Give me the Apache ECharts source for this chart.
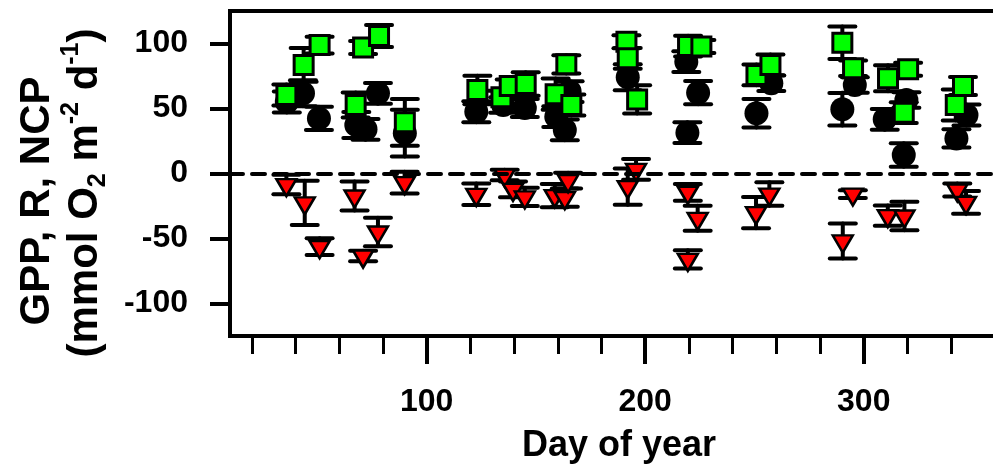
<!DOCTYPE html>
<html>
<head>
<meta charset="utf-8">
<script src="https://cdn.jsdelivr.net/npm/echarts@6/dist/echarts.min.js"></script>
<style>
  html, body { margin: 0; padding: 0; background: #fff; }
  #chart { width: 993px; height: 465px; }
</style>
</head>
<body>
<div id="chart"></div>
<script>
// GPP (green squares)
const gppDay = [35.8, 43.7, 51, 70.9, 78.2, 67.5, 90, 123.2, 134.2, 138, 145.3, 159, 163.9, 166.2,
  191.4, 192, 196.3, 219.6, 225.7, 250.9, 257.3, 290.2, 295.1, 311.1, 320.3, 318.3, 342.1, 345.4];
const gppVal = [60.4, 83.5, 98.8, 97, 105.8, 52.7, 39.4, 64.2, 58.6, 67.3, 68.8, 61, 84, 52.7,
  101.4, 88.6, 57, 98, 97.6, 75.8, 83.5, 100.6, 81, 73.2, 80.1, 46.8, 52.7, 67.3];
const gppErr = [8, 13, 6.4, 5, 8.5, 9.6, 18, 11, 5, 5, 9, 12, 7, 8,
  5, 8, 10.8, 8, 5, 8, 8, 12.5, 6, 10, 5, 8, 12, 7];

// NCP (black circles)
const ncpDay = [36, 43.4, 50.7, 67.8, 72, 77.7, 90, 122.7, 135, 144.9, 159.3, 163.2, 165.4,
  192, 218.8, 224.2, 219.3, 250.9, 257.7, 290.2, 295.9, 309.6, 319.5, 318.3, 347, 342.4];
const ncpVal = [55, 61.7, 42.4, 37.3, 34, 61.7, 31, 47.5, 52.7, 50.4, 43.7, 33.5, 63,
  74, 86, 62.2, 31.4, 46.3, 69.4, 49.4, 68.1, 41.7, 56.5, 14.2, 45, 27];
const ncpErr = [8, 10, 9, 10, 8, 8, 18, 8, 6, 7, 8, 8, 8,
  10, 8, 9, 8, 11, 6, 12.5, 6, 8, 6, 9, 8, 7];

// R (red triangles)
const rDay = [35.8, 44.2, 51, 67, 70.9, 77.7, 89.9, 122.7, 135.7, 139.5, 144.9, 158.6, 163.2, 164.7,
  192, 195.8, 219.5, 224, 219.5, 256.8, 250.7, 295, 290.4, 311, 318.6, 342.8, 346.8];
const rVal = [-8.5, -22.6, -56.3, -17.3, -63.5, -45, -7, -16, -1.2, -12.2, -18, -17, -18.6, -5.5,
  -10.1, 3.2, -14.5, -34.5, -66, -15.8, -30.1, -15.8, -51.9, -32.4, -32.7, -12.7, -22.2];
const rErr = [7.5, 17, 6.4, 11.2, 4, 11, 8.3, 8.3, 4, 6, 7, 9, 7, 6,
  14, 8, 6.4, 9.6, 7, 9, 12, 3, 13.5, 7.7, 11, 5, 8.7];

const xMajorTicks = [100, 200, 300];
const xMinorTicks = [20, 40, 60, 80, 120, 140, 160, 180, 220, 240, 260, 280, 320, 340, 360];
const yTicks = [-100, -50, 0, 50, 100];

const FONT = 'Liberation Sans';
const chart = echarts.init(document.getElementById('chart'));

const points = (days, vals) => days.map((d, i) => [d, vals[i]]);
const bars = (days, vals, errs) => days.map((d, i) => [d, vals[i] - errs[i], vals[i] + errs[i]]);

function errorBars(data) {
  return {
    type: 'custom',
    data: data,
    silent: true,
    encode: { x: 0, y: [1, 2] },
    renderItem: (params, api) => {
      const lo = api.coord([api.value(0), api.value(1)]);
      const hi = api.coord([api.value(0), api.value(2)]);
      const half = 13;
      const style = { stroke: '#000', lineWidth: 4, lineCap: 'round' };
      return {
        type: 'group',
        children: [
          { type: 'line', shape: { x1: lo[0], y1: lo[1], x2: hi[0], y2: hi[1] }, style: style },
          { type: 'line', shape: { x1: lo[0] - half, y1: lo[1], x2: lo[0] + half, y2: lo[1] }, style: style },
          { type: 'line', shape: { x1: hi[0] - half, y1: hi[1], x2: hi[0] + half, y2: hi[1] }, style: style }
        ]
      };
    }
  };
}

const tickFont = { fontSize: 32, fontWeight: 'bold', fontFamily: FONT, color: '#000' };

const option = {
  animation: false,
  backgroundColor: '#fff',
  grid: {
    left: 230, top: 11, width: 778, height: 325,
    outerBoundsMode: 'none',
    show: true, borderColor: '#000', borderWidth: 4
  },
  xAxis: [{
    type: 'value', min: 10, max: 366, position: 'bottom', offset: 2,
    axisLine: { show: false, onZero: false }, splitLine: { show: false },
    axisTick: { show: true, customValues: xMajorTicks, length: 26, lineStyle: { width: 4, color: '#000' } },
    axisLabel: Object.assign({ customValues: xMajorTicks, margin: 48 }, tickFont),
    name: 'Day of year', nameLocation: 'middle', nameGap: 90,
    nameTextStyle: { fontSize: 36, fontWeight: 'bold', fontFamily: FONT, color: '#000' }
  }, {
    type: 'value', min: 10, max: 366, position: 'bottom', offset: 2,
    axisLine: { show: false, onZero: false }, splitLine: { show: false }, axisLabel: { show: false },
    axisTick: { show: true, customValues: xMinorTicks, length: 16, lineStyle: { width: 3, color: '#000' } }
  }],
  yAxis: {
    type: 'value', min: -125, max: 125,
    axisLine: { show: false, onZero: false }, splitLine: { show: false },
    axisTick: { show: true, customValues: yTicks, length: 20, lineStyle: { width: 4, color: '#000' } },
    axisLabel: Object.assign({ customValues: yTicks, margin: 42 }, tickFont)
  },
  graphic: [{
    type: 'text', x: 37, y: 201, rotation: Math.PI / 2,
    style: {
      text: 'GPP, R, NCP', fill: '#000', align: 'center', verticalAlign: 'middle',
      font: 'bold 42px "Liberation Sans"'
    }
  }, {
    type: 'text', x: 85, y: 193, rotation: Math.PI / 2,
    style: {
      text: '{n|(mmol O}{sub|2}{n| m}{sup|-2}{n| d}{sup|-1}{n|)}',
      fill: '#000', align: 'center', verticalAlign: 'middle',
      rich: {
        n: { fontSize: 42, fontWeight: 'bold', fontFamily: FONT, lineHeight: 52 },
        sup: { fontSize: 25, fontWeight: 'bold', fontFamily: FONT, lineHeight: 25, verticalAlign: 'top' },
        sub: { fontSize: 25, fontWeight: 'bold', fontFamily: FONT, lineHeight: 25, verticalAlign: 'bottom' }
      }
    }
  }],
  series: [
    errorBars(bars(ncpDay, ncpVal, ncpErr)),
    {
      name: 'NCP', type: 'scatter', data: points(ncpDay, ncpVal),
      symbol: 'circle', symbolSize: 24, itemStyle: { color: '#000', opacity: 1 },
      markLine: {
        silent: true, symbol: 'none', label: { show: false },
        lineStyle: { color: '#000', width: 4, type: [13, 9], cap: 'round' },
        data: [{ yAxis: 0 }]
      }
    },
    errorBars(bars(gppDay, gppVal, gppErr)),
    {
      name: 'GPP', type: 'scatter', data: points(gppDay, gppVal),
      symbol: 'rect', symbolSize: 19,
      itemStyle: { color: '#00ff00', borderColor: '#000', borderWidth: 3, opacity: 1 }
    },
    errorBars(bars(rDay, rVal, rErr)),
    {
      name: 'R', type: 'scatter', data: points(rDay, rVal),
      symbol: 'path://M0,0L20,0L10,17Z', symbolSize: [20, 17], symbolOffset: [0, 3],
      itemStyle: { color: '#ff0000', borderColor: '#000', borderWidth: 2.5, opacity: 1 }
    }
  ]
};

chart.setOption(option);
</script>
</body>
</html>
